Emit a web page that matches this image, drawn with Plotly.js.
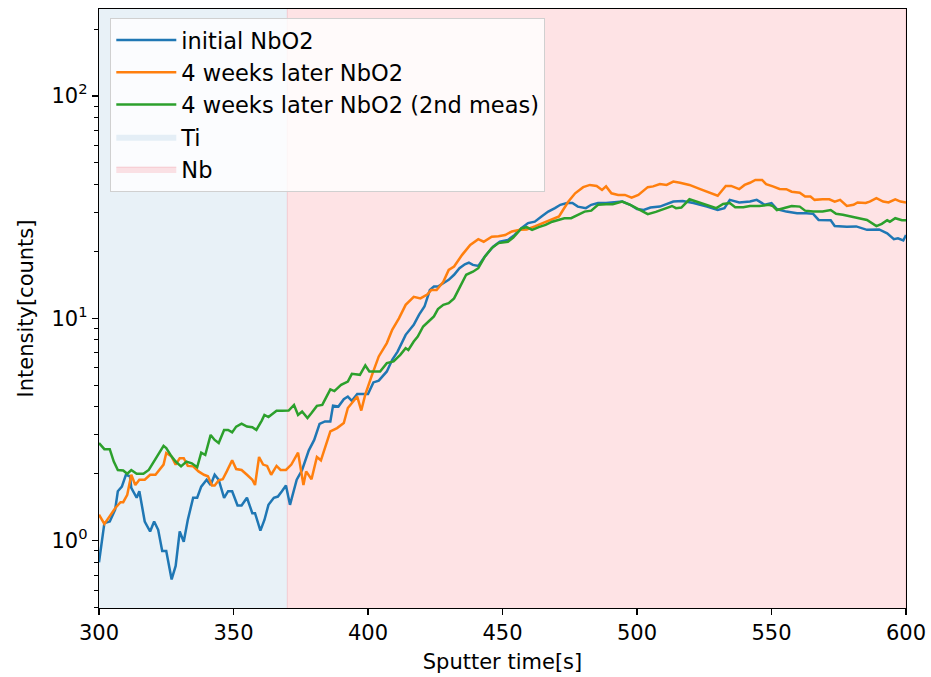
<!DOCTYPE html>
<html>
<head>
<meta charset="utf-8">
<script src="https://cdn.plot.ly/plotly-3.0.1.min.js"></script>
<style>html,body{margin:0;padding:0;background:#fff;}#chart{width:931px;height:677px;}</style>
</head>
<body>
<div id="chart"></div>
<script>
// ---- data ----
const seriesNames = ["initial NbO2", "4 weeks later NbO2", "4 weeks later NbO2 (2nd meas)"];
const regionNames = ["Ti", "Nb"];
const regionStart = [300, 370];
const regionEnd = [370, 600];

const tInitial = [300,302,304,306,307,308.5,310,311.5,312,314,315,317,319,320.5,322,323.5,325,327,328.5,330,331.5,333,335,336.5,338,340,341.5,343,344.5,346.5,348,349.5,351.5,353,355,357,358,360,361.5,363,365,366.5,368,369.5,371,373.5,375.5,378,380,382,384,386,387,389,391,392.5,394,396,400,402,404,407,409,411,414,417,419,421,423,424.5,426,428,430,432,434,436,437.5,439,441,443.5,446.5,449,452,454.5,457,459.5,462,464.5,467,469.5,471.5,474,476,478,481,483,485.5,488.5,492,494.5,497.5,500,502.5,505,508.5,513.5,517,521,526,530,532.5,534.5,538,542,544.5,547.5,550,552,555.5,559.5,563,565.5,567.5,572,573.5,578,581.5,585.5,590,593,595.5,597,599,600];
const vInitial = [0.8,1.2,1.22,1.38,1.67,1.75,1.98,1.95,1.73,1.56,1.67,1.22,1.10,1.22,1.12,0.90,0.90,0.67,0.77,1.10,0.99,1.24,1.56,1.56,1.75,1.88,1.78,1.98,1.88,1.56,1.67,1.67,1.44,1.44,1.56,1.33,1.33,1.11,1.24,1.45,1.56,1.58,1.67,1.77,1.45,1.88,2.08,2.55,2.84,3.35,3.44,3.44,4.05,4.01,4.33,4.45,4.26,4.57,4.57,5.15,5.25,5.77,6.51,7.09,8.43,9.35,10.4,11.3,13.4,13.9,13.9,14.4,14.9,15.7,16.8,17.5,17.8,17.4,17.2,19.0,21.0,22.1,22.5,23.7,25.4,26.8,27.2,28.7,30.2,31.3,32.4,33.0,33.0,31.8,31.3,32.4,33.0,33.0,33.2,33.5,32.4,31.0,30.7,31.5,31.8,33.5,33.7,33.0,31.8,30.7,31.3,34.1,33.2,33.5,34.1,32.4,33.0,31.0,30.2,29.7,29.7,29.5,27.7,27.6,26.0,25.8,25.9,25.0,25.1,24.1,22.7,22.9,22.4,23.7];

const tLater = [300,302,304,306,308,309,310.5,312,313.5,315,317,319,321,322.5,324,325,327,328.5,330,331.5,333,335,337,339,340.5,342,343,344.5,346,347.5,349.5,351,353,355,357,358,359.5,361,362.5,364,366,367.5,369.5,371.5,374,376,377,379,381,382.5,386,388.5,391,392.5,394.5,396,397.5,399,401.5,404,407,409,411.5,414,417,419.5,422,423.5,425.5,428,430,432,435,438,441,443,446,448.5,451,453.5,456.5,459,462,465,468.5,471,472.5,474.5,477,480,482.5,485,487,488.5,490.5,493,495.5,498,500.5,502,504,506,508.5,511,513.5,516,519.5,523.5,527,530,533,535,538,540,542,544,546.5,548,550.5,553,555.5,557.5,560.5,562.5,564.5,566,569,571.5,573.5,575.5,578,580.5,582,585,586.5,589,591.5,593.5,596,598,600];
const vLater = [1.31,1.19,1.29,1.40,1.49,1.49,1.61,1.98,1.78,1.88,1.88,1.98,1.98,2.10,2.20,2.48,2.39,2.20,2.35,2.35,2.17,2.16,2.05,1.98,1.95,1.77,1.77,1.87,1.89,2.05,2.30,2.10,2.08,1.98,1.88,1.78,2.38,2.20,2.17,1.98,2.17,2.08,2.08,2.20,2.49,1.78,2.05,1.89,2.38,2.30,3.10,3.21,3.38,3.95,4.22,4.45,3.85,4.55,5.57,6.74,7.74,8.88,10.0,11.5,12.5,12.3,12.8,13.4,13.4,14.6,16.5,17.1,19.3,21.4,22.7,22.1,23.3,23.4,23.7,24.6,25.0,25.1,25.9,26.8,27.7,28.7,30.7,33.5,36.5,38.9,39.8,39.4,37.8,39.2,36.5,35.9,35.9,34.9,35.9,37.1,38.9,39.2,40.2,39.8,41.2,40.7,39.8,38.1,36.7,35.6,39.4,39.4,38.1,39.8,40.7,41.9,41.9,40.1,39.2,38.2,38.1,37.1,36.7,35.3,35.3,34.1,34.3,34.3,33.5,34.1,32.0,32.4,33.2,33.0,33.5,34.7,33.5,33.2,34.3,33.5,33.2];

const tSecond = [300,302,304,305.5,307,309,310.5,312,314,316.5,318.5,320,322,324,325,327,328.5,330.5,332.5,334.5,336.5,338,339.5,341.5,343,344.5,346.5,348,349.5,351,353,355,357,358.5,360.5,361.5,363,366,368,370.5,372.5,374,375.5,377.5,379,381,383,386,387.5,390,392.5,394,397,399,400.5,404.5,407,409.5,412,414,415,417,418.5,420.5,422.5,424.5,426,428,430,432,434,436.5,439,441,443.5,446,448.5,452,454,457,459,461,463.5,466,468.5,471,473,475.5,478,480.5,483,485.5,488.5,491,494.5,497.5,500.5,504,507,510.5,513,514.5,516.5,519.5,523,526,529.5,532,534.5,536.5,539.5,542,545.5,549,550.5,552,554.5,557.5,560.5,562.5,565.5,569,572,574,576.5,579,582.5,585.5,587,589,591,593,594,596,598.5,600];
const vSecond = [2.75,2.58,2.58,2.27,2.08,2.07,2.00,2.08,2.00,2.00,2.08,2.23,2.43,2.67,2.61,2.39,2.27,2.16,2.27,2.23,2.14,2.49,2.43,2.99,2.84,2.75,3.15,3.15,3.07,3.26,3.36,3.26,3.24,3.15,3.47,3.68,3.60,3.84,3.84,3.85,4.08,3.68,3.81,3.56,3.75,4.04,4.08,4.79,4.71,5.02,5.20,5.63,5.57,6.14,5.77,5.77,6.29,6.40,6.85,7.34,7.21,7.87,8.28,9.19,9.68,10.2,11.0,11.5,11.7,12.3,13.7,15.7,16.2,16.8,19.0,20.7,21.8,22.1,23.1,25.4,25.7,25.0,25.7,26.3,27.2,27.7,28.2,28.2,29.2,30.2,30.5,32.4,32.6,32.6,33.5,32.4,31.0,29.4,30.1,31.3,32.0,31.3,31.5,34.3,33.2,32.4,31.3,32.7,33.0,31.6,31.6,32.0,32.0,32.4,32.0,30.7,31.3,32.0,31.8,30.5,30.2,30.2,30.7,29.5,29.2,28.7,28.2,27.7,27.0,26.0,26.6,27.6,27.2,28.2,27.6,27.6];

const xTickVals = [300, 350, 400, 450, 500, 550, 600];
const yTickVals = [1, 10, 100];
const yTickText = ["10<sup>0</sup>", "10<sup>1</sup>", "10<sup>2</sup>"];
const yMinorVals = [0.5,0.6,0.7,0.8,0.9,2,3,4,5,6,7,8,9,20,30,40,50,60,70,80,90,200];

// ---- styles ----
const lineColors = ["#1f77b4", "#ff7f0e", "#2ca02c"];
const regionFill = ["rgba(31,119,180,0.1)", "rgba(250,60,70,0.14)"];
const regionEdge = ["rgba(31,119,180,0.0)", "rgba(240,120,130,0.25)"];
const font = "DejaVu Sans, sans-serif";
const Y_LOW = 0.1, Y_HIGH = 1000; // extends past the axis; clipped by the plot area

const traces = [];
for (let i = 0; i < regionNames.length; i++) {
  traces.push({
    type: "scatter", mode: "lines", name: regionNames[i],
    x: [regionStart[i], regionEnd[i], regionEnd[i], regionStart[i], regionStart[i]],
    y: [Y_LOW, Y_LOW, Y_HIGH, Y_HIGH, Y_LOW],
    fill: "toself", fillcolor: regionFill[i],
    line: {color: regionEdge[i], width: 1},
    hoverinfo: "skip", legendrank: 10 + i, legendgroup: "r" + i
  });
}
const tArr = [tInitial, tLater, tSecond];
const vArr = [vInitial, vLater, vSecond];
for (let i = 0; i < seriesNames.length; i++) {
  traces.push({
    type: "scatter", mode: "lines", name: seriesNames[i],
    x: tArr[i], y: vArr[i],
    line: {color: lineColors[i], width: 2.5},
    legendrank: 1 + i, legendgroup: "s" + i
  });
}

const layout = {
  width: 931, height: 677,
  margin: {l: 99, r: 25, t: 9, b: 69},
  paper_bgcolor: "#ffffff", plot_bgcolor: "#ffffff",
  font: {family: font, size: 21, color: "#000"},
  showlegend: true,
  legend: {
    x: 0.014, y: 0.985, xanchor: "left", yanchor: "top",
    bgcolor: "rgba(255,255,255,0.8)", bordercolor: "#d0d0d0", borderwidth: 1,
    font: {family: font, size: 22.5, color: "#000"},
    tracegroupgap: 4, traceorder: "normal", itemwidth: 60
  },
  xaxis: {
    range: [300, 600], tickvals: xTickVals, ticktext: xTickVals.map(String),
    ticks: "outside", ticklen: 6, tickwidth: 1.2, tickcolor: "#000",
    showline: true, mirror: true, linecolor: "#000", linewidth: 1.2,
    showgrid: false, zeroline: false,
    title: {text: "Sputter time[s]", font: {family: font, size: 21}, standoff: 9},
    tickfont: {family: font, size: 21}
  },
  yaxis: {
    type: "log", range: [-0.3025, 2.391],
    tickvals: yTickVals, ticktext: yTickText,
    ticks: "outside", ticklen: 6, tickwidth: 1.2, tickcolor: "#000",
    minor: {ticks: "outside", ticklen: 3.5, tickwidth: 1, tickcolor: "#000", tickvals: yMinorVals},
    showline: true, mirror: true, linecolor: "#000", linewidth: 1.2,
    showgrid: false, zeroline: false,
    title: {text: "Intensity[counts]", font: {family: font, size: 21}, standoff: 12},
    tickfont: {family: font, size: 21}
  }
};

Plotly.newPlot("chart", traces, layout, {displayModeBar: false, staticPlot: true});
</script>
</body>
</html>
